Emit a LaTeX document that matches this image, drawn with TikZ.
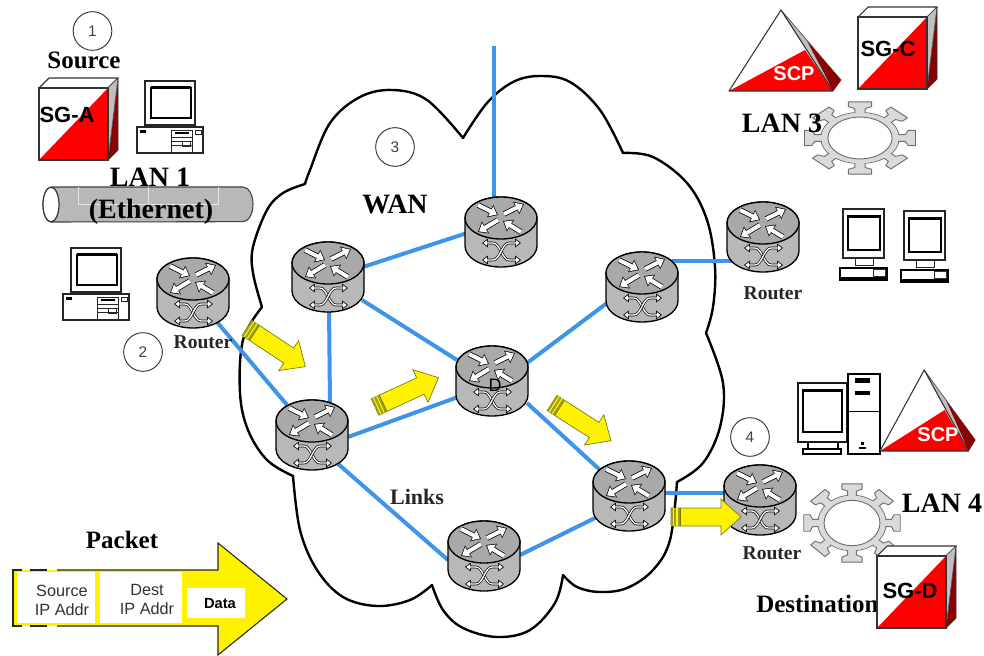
\documentclass[tikz,border=0pt]{standalone}
\usepackage{fontspec}
\setmainfont{Liberation Serif}
\newfontfamily\arialf{Liberation Sans}
\usetikzlibrary{arrows.meta}
\definecolor{linkblue}{HTML}{3D94E8}
\definecolor{bodygrey}{HTML}{B8B8B8}
\definecolor{sgred}{HTML}{FF0000}
\definecolor{sgdark}{HTML}{8B0000}
\definecolor{olive}{HTML}{77771A}
\definecolor{gearfill}{HTML}{DADADA}
\definecolor{gearline}{HTML}{6E6E6E}
\newcommand{\sz}[1]{\fontsize{#1}{#1}\selectfont}
\tikzset{
  cloudline/.style={black,line width=1.8pt,line cap=round,line join=round},
  link/.style={linkblue,line width=3pt},
  seriflabel/.style={font=\bfseries\sz{21pt},inner sep=0pt,text=black},
  midlabel/.style={font=\bfseries\sz{18.75pt},inner sep=0pt},
  routerlabel/.style={font=\bfseries\sz{14.7pt},inner sep=0pt,text=black!85},
  numcircle/.style={draw=black!80,line width=.7pt,circle,minimum size=29pt,inner sep=0pt,font=\arialf\sz{11.5pt},text=black!75},
  sglabel/.style={font=\arialf\bfseries\sz{16.5pt},inner sep=0pt},
  scplabel/.style={font=\arialf\bfseries\sz{15pt},inner sep=0pt,text=white},
  pktlabel/.style={font=\arialf\sz{12.2pt},inner sep=0pt,align=center,text=black!80},
  wht/.style={white,line width=3pt,shorten >=.9pt},
  blk/.style={black,line width=4.1pt},
  whead/.style={-{Triangle[width=8pt,length=5.2pt]}},
  bhead/.style={-{Triangle[width=10pt,length=6.6pt]}},
  router/.pic={
    \fill[bodygrey,draw=black,line width=1pt,line join=round] (-36,14) arc[start angle=180,end angle=360,x radius=27pt,y radius=15.75pt] -- (36,-14) arc[start angle=0,end angle=180,x radius=27pt,y radius=15.75pt] -- cycle;
    \draw[black,line width=1pt,fill=bodygrey!92!black] (0,-14) ellipse[x radius=27pt,y radius=15.75pt];
    \foreach \xa/\ya/\xb/\yb in {-23/-27/-3/-17, 3/-18/23/-28, -3/-12/-23/0, 20/0/2/-11}{
      \draw[blk,bhead] (\xa,\ya) -- (\xb,\yb);
      \draw[wht,whead] (\xa,\ya) -- (\xb,\yb);
    }
    \foreach \ya/\yb in {11/28,28/11}{
      \draw[black,line width=2pt,{Triangle[width=6.4pt,length=4.4pt]}-{Triangle[width=6.4pt,length=4.4pt]}] (-19,\ya) -- (-8,\ya) .. controls (-1,\ya) and (1,\yb) .. (8,\yb) -- (20,\yb);
      \draw[white,line width=1pt,shorten <=1pt,shorten >=1pt,{Triangle[width=4pt,length=2.8pt]}-{Triangle[width=4pt,length=2.8pt]}] (-19,\ya) -- (-8,\ya) .. controls (-1,\ya) and (1,\yb) .. (8,\yb) -- (20,\yb);
    }
  },
  flowarrow/.pic={
    \fill[yellow,draw=olive,line width=.5pt,line join=miter] (0,-9) -- (50,-9) -- (50,-18) -- (70,0) -- (50,18) -- (50,9) -- (0,9) -- cycle;
    \fill[olive!70!yellow] (0,-9) rectangle (9,9);
    \foreach \s in {2.5,6}{\draw[yellow!90!white,line width=.8pt] (\s,-9) -- (\s,9);}
    \draw[olive,line width=.5pt] (9,-9) -- (9,9);
  },
  sgcube/.pic={
    \fill[white,draw=black!80,line width=.8pt,line join=round] (0,-72) -- (10,-82) -- (79,-82) -- (69,-72) -- cycle;
    \fill[sgdark] (69,0) -- (79,-10) -- (79,-82) -- cycle;
    \fill[black!25,draw=black!70,line width=.5pt] (69,-72) -- (79,-82) -- (69,0) -- cycle;
    \draw[black!80,line width=.7pt] (69,0) -- (79,-10) -- (79,-82);
    \fill[white] (0,0) rectangle (69,-72);
    \fill[sgred] (0,0) -- (69,-72) -- (69,0) -- cycle;
    \draw[black!80,line width=.9pt] (0,0) rectangle (69,-72);
  },
  scppyr/.pic={
    \fill[black!25,draw=black!70,line width=.5pt] (52,-81) -- (112,-11) -- (104,0) -- cycle;
    \fill[sgdark] (78,-50) -- (112,-11) -- (104,0) -- (97,-14) -- cycle;
    \fill[white] (0,0) -- (52,-81) -- (104,0) -- cycle;
    \fill[sgred] (0,0) -- (76,-41) -- (104,0) -- cycle;
    \draw[black!80,line width=.8pt,line join=round] (0,0) -- (52,-81) -- (104,0) -- cycle;
  },
  gearpic/.pic={
    \draw[gearline,line width=.7pt] (0,0) circle[radius=20.2pt];
    \foreach \a in {0,45,...,315}{
      \path[rotate=\a,fill=gearfill,draw=gearline,line width=.7pt,line join=round] (-3.5,24) -- (-3.5,31) -- (-8,33) -- (-8,38) -- (8,38) -- (8,33) -- (3.5,31) -- (3.5,24) -- cycle;
    }
    \path[fill=gearfill,even odd rule] (0,0) circle[radius=19.9pt] (0,0) circle[radius=16.5pt];
    \draw[gearline,line width=.7pt,fill=white] (0,0) circle[radius=16.5pt];
  },
  desktop/.pic={
    \draw[black!85,line width=.8pt,fill=white] (8,0) rectangle (58,44);
    \draw[black,line width=1.8pt] (14,7) rectangle (54,37);
    \draw[black,line width=1.6pt] (14,6) -- (54,6);
    \draw[black!85,line width=.7pt] (14,44) -- (14,46) (50,44) -- (50,46) (8,46) rectangle (58,46);
    \draw[black!85,line width=.8pt,fill=white] (0,46) rectangle (66,72);
    \fill[black] (3,49) rectangle (9,52);
    \draw[black!85,line width=.6pt] (34,49) rectangle (55,71);
    \draw[black!85,line width=.6pt] (34,56) -- (55,56) (34,60) -- (55,60) (34,64) -- (55,64) (45,60) rectangle (53,65);
    \fill[black] (38,51) rectangle (52,53);
    \draw[black!85,line width=.5pt] (58,49) rectangle (64,53);
  },
  flatmon/.pic={
    \draw[black!85,line width=.8pt,fill=white] (0,0) rectangle (41,49);
    \draw[black,line width=.9pt] (5,7) rectangle (37,41);
    \fill[black] (5,6) rectangle (37,8.5);
    \draw[black!85,line width=.7pt] (12,49) -- (12,56) -- (30,56) -- (30,49) (10,59) -- (32,59);
    \draw[black,line width=.8pt] (-3,59) rectangle (44,71);
    \fill[black] (-3,68) rectangle (44,71);
    \draw[black!80,line width=.4pt] (30,60) rectangle (42,67);
  }
}
\begin{document}
\begin{tikzpicture}[x=.75pt,y=-.75pt]
\useasboundingbox (0,0) rectangle (984,656);
\fill[white] (0,0) rectangle (984,656);

% ---- cloud
\draw[cloudline] plot[smooth,tension=.6] coordinates {(262,307) (253,273) (253,247) (267,210) (283,193) (305,184)};
\draw[cloudline] plot[smooth,tension=.6] coordinates {(305,184) (310,170) (330,123) (360,97) (393,90) (427,100) (463,138)};
\draw[cloudline] plot[smooth,tension=.6] coordinates {(463,138) (487,103) (513,82) (540,76) (570,82) (600,110) (623,153)};
\draw[cloudline] plot[smooth,tension=.6] coordinates {(623,153) (653,157) (687,183) (707,220) (715,267) (713,307) (706,333)};
\draw[cloudline] plot[smooth,tension=.6] coordinates {(706,333) (723,383) (720,427) (703,463) (677,482)};
\draw[cloudline] plot[smooth,tension=.6] coordinates {(677,482) (670,540) (653,570) (627,588) (600,592) (577,587) (563,575)};
\draw[cloudline] plot[smooth,tension=.6] coordinates {(563,575) (555,603) (530,630) (497,637) (463,628) (443,610) (432,585)};
\draw[cloudline] plot[smooth,tension=.6] coordinates {(432,585) (410,600) (377,606) (343,597) (317,570) (300,530) (293,476)};
\draw[cloudline] plot[smooth,tension=.6] coordinates {(293,476) (267,460) (248,430) (240,393) (243,340) (262,307)};

% ---- router positions and links
\node[coordinate] (r1) at (193,293) {};
\node[coordinate] (r2) at (328,277) {};
\node[coordinate] (r3) at (501,232) {};
\node[coordinate] (r4) at (642,287) {};
\node[coordinate] (r5) at (763,237) {};
\node[coordinate] (rd) at (492,381) {};
\node[coordinate] (r7) at (312,435) {};
\node[coordinate] (r8) at (629,496) {};
\node[coordinate] (r9) at (484,556) {};
\node[coordinate] (r10) at (760,500) {};
\coordinate (topend) at (494,46);

\draw[link] (topend) -- ([shift={(-7,-32)}]r3);
\draw[link] ([shift={(35,-10)}]r2) -- ([shift={(-34,1)}]r3);
\draw[link] ([shift={(34,23)}]r2) -- ([shift={(-35,-21)}]rd);
\draw[link] ([shift={(1,30)}]r2) -- ([shift={(18,-30)}]r7);
\draw[link] ([shift={(36,2)}]r7) -- ([shift={(-34,16)}]rd);
\draw[link] ([shift={(25,28)}]r7) -- ([shift={(-36,4)}]r9);
\draw[link] ([shift={(35,-18)}]rd) -- ([shift={(-35,16)}]r4);
\draw[link] ([shift={(35,22)}]rd) -- ([shift={(-29,-26)}]r8);
\draw[link] ([shift={(-32,21)}]r8) -- ([shift={(36,-1)}]r9);
\draw[link] ([shift={(30,-26)}]r4) -- ([shift={(-30,24)}]r5);
\draw[link] ([shift={(30,-3)}]r8) -- ([shift={(-30,-7)}]r10);
\draw[link] ([shift={(24,29)}]r1) -- ([shift={(-25,-30)}]r7);

% ---- routers
\foreach \r in {r1,r2,r3,r4,r5,rd,r7,r8,r9,r10}{\pic at (\r) {router};}
\node[inner sep=0pt,font=\arialf\sz{13.5pt},text=black] (dlabel) at (495,385) {D};

% ---- flow arrows
\pic[rotate=-33.5] at (247,328) {flowarrow};
\pic[rotate=24.8] at (375,407) {flowarrow};
\pic[rotate=-32.6] at (552,403) {flowarrow};
\pic at (671,517) {flowarrow};

% ---- LAN 1
\fill[bodygrey,draw=black!75,line width=.8pt] (51,187) -- (243,187) arc[start angle=90,end angle=-90,x radius=7.5pt,y radius=13pt] -- (51,222) arc[start angle=270,end angle=90,x radius=6pt,y radius=13pt] -- cycle;
\draw[black!80,line width=.9pt,fill=white] (51,204.500) ellipse[x radius=6pt,y radius=13pt];
\draw[white!90!black,line width=.5pt] (78,187) -- (78,204) -- (218,204) -- (218,187) (148,187) -- (148,204);
\node[seriflabel] (lan1) at (150,177) {LAN 1};
\node[seriflabel] (eth) at (151,212) {(Ethernet)};
\node[midlabel] (source) at (84,60) {Source};
\node[numcircle] (n1) at (92.500,31) {1};
\node[numcircle] (n2) at (143,352) {2};
\node[numcircle] (n3) at (395,147) {3};
\node[numcircle] (n4) at (750,437) {4};

\pic at (39,160) {sgcube};
\node[sglabel] (sga) at (67,115) {SG-A};
\pic at (137,81) {desktop};
\pic at (63,248) {desktop};

\node[routerlabel] (rl1) at (203,342) {Router};
\node[routerlabel] (rl5) at (773,293) {Router};
\node[routerlabel] (rl10) at (772,553) {Router};
\node[seriflabel] (wan) at (395,204) {WAN};
\node[font=\bfseries\sz{16.5pt},inner sep=0pt,text=black!85] (links) at (417,497) {Links};

% ---- top right
\pic at (729,91) {scppyr};
\node[scplabel] (scp1) at (794,74) {SCP};
\pic at (858,89) {sgcube};
\node[sglabel] (sgc) at (888,49) {SG-C};
\pic[xscale=1.46,yscale=.95] at (860,138) {gearpic};
\node[seriflabel] (lan3) at (782,123) {LAN 3};
\pic at (843,209) {flatmon};
\pic at (904,211) {flatmon};

% ---- lower right
\draw[black!90,line width=1.1pt,fill=white] (798,383) rectangle (847,442);
\draw[black,line width=1.3pt] (803,390) rectangle (842,432);
\fill[black] (803,389) rectangle (842,392);
\draw[black,line width=1pt] (808,442) -- (808,449) (838,442) -- (838,449);
\draw[black,line width=1pt,fill=white] (803,449) rectangle (841,454);
\draw[black,line width=1.2pt,fill=white] (848,374) rectangle (880,454);
\fill[black] (855,378) rectangle (870,383);
\fill[black] (855,391) rectangle (870,395);
\draw[black,line width=.5pt] (848,411) -- (880,411);
\fill[black] (859,447) rectangle (866,449);
\fill[black] (861,442) rectangle (864,445);
\pic[xscale=.85] at (880,451) {scppyr};
\node[scplabel] (scp2) at (938,435) {SCP};
\pic[xscale=1.27,yscale=1.03] at (852,523) {gearpic};
\node[seriflabel] (lan4) at (942,503) {LAN 4};
\node[midlabel,anchor=west] (dest) at (756,604) {Destination};
\pic at (877,628) {sgcube};
\node[sglabel] (sgd) at (910,591) {SG-D};

% ---- packet
\fill[yellow] (13,570) -- (218,570) -- (218,543) -- (287,599) -- (218,655) -- (218,626) -- (13,626) -- cycle;
\draw[black!85,line width=.8pt] (57,570) -- (218,570) -- (218,543) -- (287,599) -- (218,655) -- (218,626) -- (57,626);
\draw[black!85,line width=.8pt] (22,570) -- (13,570) -- (13,626) -- (22,626) (30,570) -- (47,570) (30,626) -- (47,626);
\fill[white] (17,572) rectangle (95,623);
\fill[white] (100,572) rectangle (182,623);
\fill[white] (187,588) rectangle (245,618);
\node[pktlabel] (psrc) at (62,600) {Source\\[2pt]IP Addr};
\node[pktlabel] (pdst) at (147,599.500) {Dest\\[2pt]IP Addr};
\node[font=\arialf\bfseries\sz{11pt},inner sep=0pt] (pdata) at (220,604) {Data};
\node[midlabel] (pkt) at (122,540) {Packet};
\end{tikzpicture}
\end{document}
